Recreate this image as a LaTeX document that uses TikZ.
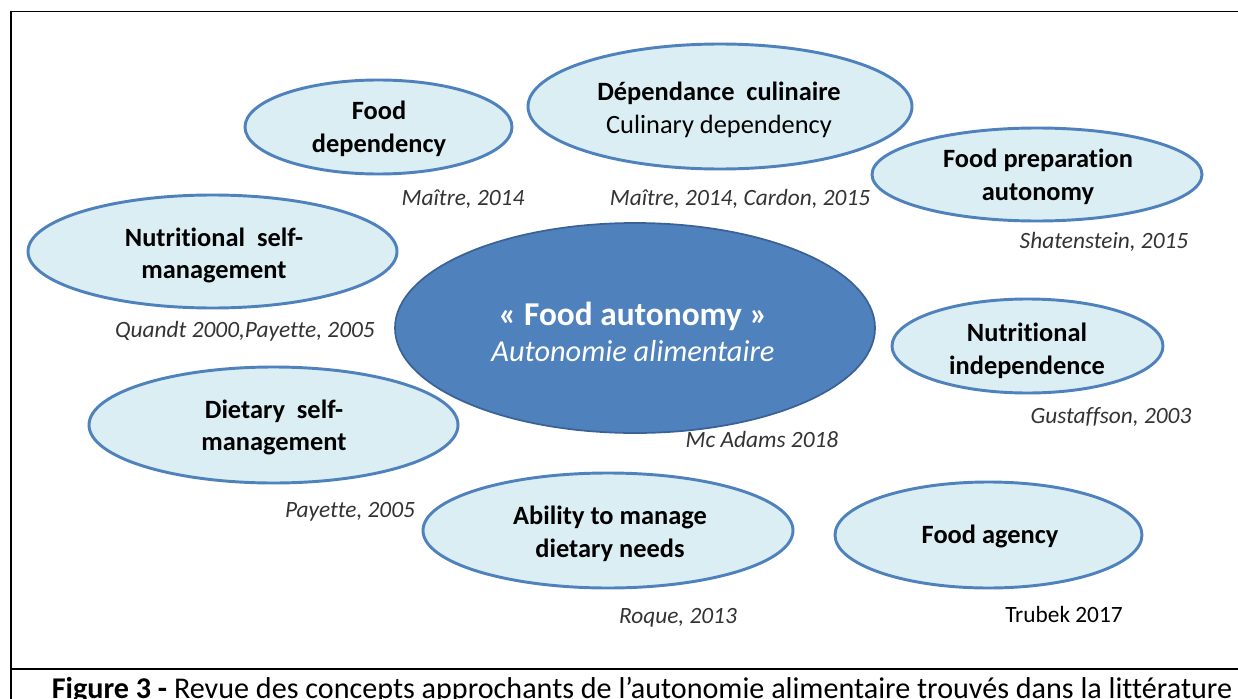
\documentclass[tikz,border=0pt]{standalone}
\usepackage{fontspec}
\setmainfont{Carlito}[Ligatures={NoCommon}]
\usetikzlibrary{shapes.geometric}
\definecolor{lightfill}{HTML}{DAEEF3}
\definecolor{accent}{HTML}{4F81BD}
\definecolor{accentdark}{HTML}{3A6296}
\definecolor{citegray}{HTML}{333333}
\begin{document}
\begin{tikzpicture}[x=0.75pt,y=-0.75pt,
  esize/.style 2 args={minimum width={#1*0.75pt}, minimum height={#2*0.75pt}},
  concept/.style={ellipse, draw=accent, fill=lightfill, line width=2.2pt, inner sep=0pt},
  core/.style={ellipse, draw=accentdark, fill=accent, line width=1.3pt, inner sep=0pt},
  conceptlbl/.style={font=\bfseries\fontsize{19.8}{24.5}\selectfont, align=center, inner sep=0pt},
  corelbl/.style={font=\fontsize{23}{27.5}\selectfont, text=white, align=center, inner sep=0pt},
  cite/.style={font=\itshape\fontsize{17.5}{21}\selectfont, text=citegray, anchor=base, inner sep=0pt},
  frameline/.style={line width=1.2pt, black}]
\useasboundingbox (0,0) rectangle (1238,699);

% frame
\coordinate (fbl) at (11,699);
\coordinate (ftl) at (11,11.5);
\coordinate (ftr) at (1238,11.5);
\coordinate (sepl) at (11,669);
\coordinate (sepr) at (1238,669);
\draw[frameline] (fbl) -- (ftl) -- (ftr);
\draw[frameline, line width=1.6pt] (sepl) -- (sepr);

% ellipses
\node[concept, esize={267}{94}]  (e1) at (378.5,127) {};
\node[concept, esize={384}{125}] (e2) at (720,106.5) {};
\node[concept, esize={330}{93}]  (e3) at (1037,174.5) {};
\node[concept, esize={369}{113}] (e4) at (212.5,251.5) {};
\node[core,    esize={480}{210}] (e0) at (635,328) {};
\node[concept, esize={271}{94}]  (e6) at (1027.5,346) {};
\node[concept, esize={369}{116}] (e7) at (273.5,425) {};
\node[concept, esize={370}{115}] (e8) at (608,530.5) {};
\node[concept, esize={307}{106}] (e9) at (988.5,535) {};

% labels
\node[conceptlbl] (t1) at (379,129) {Food\\dependency};
\node[conceptlbl] (t2) at (719,110) {Dépendance\ \ culinaire\\\mdseries Culinary dependency};
\node[conceptlbl] (t3) at (1038,176.5) {Food preparation\\autonomy};
\node[conceptlbl] (t4) at (214,255.5) {Nutritional\ \ self-\\management};
\node[corelbl] (t0) at (633,332) {\fontsize{25}{27.5}\selectfont\bfseries « Food autonomy »\\\fontsize{22.8}{27.5}\selectfont\itshape Autonomie alimentaire};
\node[conceptlbl] (t6) at (1027,351) {Nutritional\\independence};
\node[conceptlbl] (t7) at (274,427.5) {Dietary\ \ self-\\management};
\node[conceptlbl] (t8) at (610,534) {Ability to manage\\dietary needs};
\node[conceptlbl, anchor=base] (t9) at (990,543) {Food agency};

% citations
\node[cite] (c1) at (463,205) {Maître, 2014};
\node[cite] (c2) at (740,205) {Maître, 2014, Cardon, 2015};
\node[cite] (c3) at (1104,248) {Shatenstein, 2015};
\node[cite] (c4) at (245,337) {Quandt 2000,Payette, 2005};
\node[cite] (c5) at (1111,423) {Gustaffson, 2003};
\node[cite] (c6) at (762,447) {Mc Adams 2018};
\node[cite] (c7) at (350,517) {Payette, 2005};
\node[cite] (c8) at (678,623) {Roque, 2013};
\node[cite, font=\fontsize{17.5}{21}\selectfont, text=black] (c9) at (1064,622) {Trubek 2017};

% caption
\node[anchor=base, inner sep=0pt, font=\fontsize{22.6}{26}\selectfont] (cap) at (642,698)
  {\textbf{Figure 3 -} Revue des concepts approchants de l’autonomie alimentaire trouvés dans la littérature};
\end{tikzpicture}
\end{document}
